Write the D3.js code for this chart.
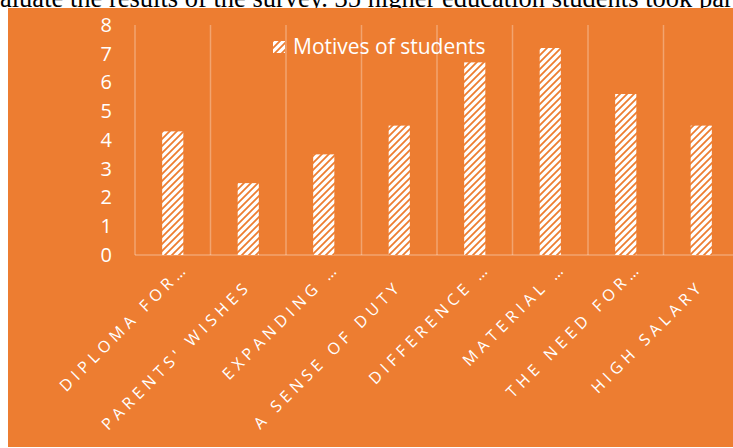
<!DOCTYPE html>
<html>
<head>
<meta charset="utf-8">
<script src="https://cdn.jsdelivr.net/npm/d3@7"></script>
<style>
  html, body { margin: 0; padding: 0; background: #fff; overflow: hidden; }
  svg { display: block; }
</style>
</head>
<body>
<svg id="chart" width="733" height="448"></svg>
<script>
// Chart data
const categories = [
  "DIPLOMA FOR…",
  "PARENTS' WISHES",
  "EXPANDING …",
  "A SENSE OF DUTY",
  "DIFFERENCE …",
  "MATERIAL …",
  "THE NEED FOR…",
  "HIGH SALARY"
];
const values = [4.3, 2.5, 3.5, 4.5, 6.7, 7.2, 5.6, 4.5];
const yTicks = [0, 1, 2, 3, 4, 5, 6, 7, 8];
const seriesName = "Motives of students";
const headerText = "aluate the results of the survey. 35 higher education students took part";

const orange = "#ED7D31";
const svg = d3.select("#chart");

// Text from the page above the chart (cut off at the top)
svg.append("text")
  .attr("x", 0)
  .attr("y", 7)
  .attr("font-family", "Liberation Serif, Times New Roman, serif")
  .attr("font-size", 26.5)
  .attr("fill", "#000")
  .text(headerText);

// Chart area background
svg.append("rect")
  .attr("x", 8)
  .attr("y", 8)
  .attr("width", 733 - 8)
  .attr("height", 447 - 8)
  .attr("fill", orange);

// Hatch pattern for the bars
const defs = svg.append("defs");
const pattern = defs.append("pattern")
  .attr("id", "hatch")
  .attr("patternUnits", "userSpaceOnUse")
  .attr("width", 7)
  .attr("height", 7);
pattern.append("rect")
  .attr("width", 7)
  .attr("height", 7)
  .attr("fill", "#fff");
pattern.append("path")
  .attr("d", "M-1,8 L8,-1 M-2,2 L2,-2 M5,9 L9,5")
  .attr("stroke", orange)
  .attr("stroke-width", 1.8);

const plot = { left: 135, right: 739, top: 25, bottom: 255 };

const x = d3.scaleBand()
  .domain(categories)
  .range([plot.left, plot.right])
  .padding(0);

const y = d3.scaleLinear()
  .domain([0, 8])
  .range([plot.bottom, plot.top]);

// Vertical gridlines at category boundaries
const bounds = categories.map((c) => x(c)).concat([plot.right]);
svg.append("g")
  .selectAll("line")
  .data(bounds)
  .enter()
  .append("line")
  .attr("x1", (d) => d)
  .attr("x2", (d) => d)
  .attr("y1", y(8))
  .attr("y2", y(0))
  .attr("stroke", "#fff")
  .attr("stroke-opacity", 0.3)
  .attr("stroke-width", 1.5);

// Baseline
svg.append("line")
  .attr("x1", plot.left)
  .attr("x2", plot.right)
  .attr("y1", y(0))
  .attr("y2", y(0))
  .attr("stroke", "#fff")
  .attr("stroke-opacity", 0.3)
  .attr("stroke-width", 1.5);

// Bars
const bw = x.bandwidth() * 0.28;
svg.append("g")
  .selectAll("rect")
  .data(values)
  .enter()
  .append("rect")
  .attr("x", (d, i) => x(categories[i]) + x.bandwidth() / 2 - bw / 2)
  .attr("y", (d) => y(d))
  .attr("width", bw)
  .attr("height", (d) => y(0) - y(d))
  .attr("fill", "url(#hatch)");

// Y axis
const yAxis = svg.append("g")
  .attr("transform", `translate(${plot.left},0)`)
  .call(d3.axisLeft(y).tickValues(yTicks).tickSize(0).tickPadding(23));
yAxis.select(".domain").remove();
yAxis.selectAll("text")
  .attr("fill", "#fff")
  .attr("font-family", "Open Sans, sans-serif")
  .attr("font-size", 20);

// Category labels, rotated
svg.append("g")
  .selectAll("text")
  .data(categories)
  .enter()
  .append("text")
  .attr("transform", (d) => {
    const cx = x(d) + x.bandwidth() / 2;
    const cut = d.endsWith("…");
    const ax = cx + (cut ? 17 : 4);
    const ay = y(0) + (cut ? 14 : 32);
    return `translate(${ax},${ay}) rotate(-45)`;
  })
  .attr("text-anchor", "end")
  .attr("fill", "#fff")
  .attr("font-family", "Open Sans, sans-serif")
  .attr("font-size", 16)
  .attr("letter-spacing", 4.7)
  .text((d) => d);

// Legend
const legend = svg.append("g").attr("transform", "translate(273,41)");
legend.append("rect")
  .attr("width", 12)
  .attr("height", 12)
  .attr("fill", "url(#hatch)");
legend.append("text")
  .attr("x", 20)
  .attr("y", 12.5)
  .attr("fill", "#fff")
  .attr("font-family", "Open Sans, sans-serif")
  .attr("font-size", 21)
  .text(seriesName);
</script>
</body>
</html>
